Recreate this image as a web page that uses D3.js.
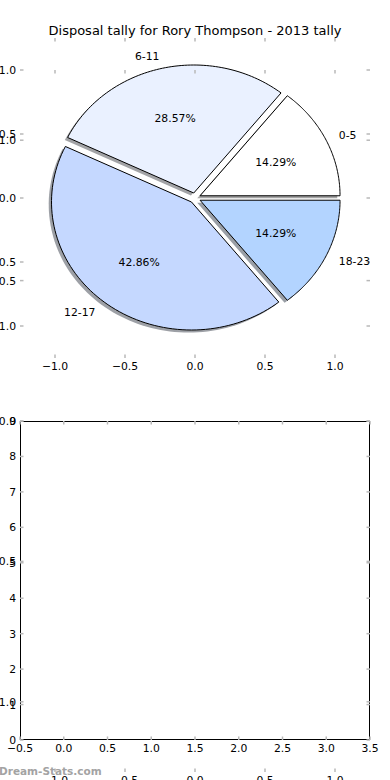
<!DOCTYPE html>
<html>
<head>
<meta charset="utf-8">
<script src="https://cdn.jsdelivr.net/npm/d3@7"></script>
<style>
  body { margin: 0; background: #fff; }
  svg { display: block; font-family: 'DejaVu Sans', sans-serif; }
  .tick-mark { stroke: #b8b8b8; stroke-width: 1.5; }
  .tick-label { font-size: 10.8px; fill: #000; }
</style>
</head>
<body>
<svg id="chart" width="390" height="780"></svg>
<script>
var slices = ['0-5', '6-11', '12-17', '18-23'];
var disposals = [1, 2, 3, 1];
var sliceColors = ['#ffffff', '#eaf1ff', '#c5d8ff', '#b3d4ff'];
var pieTicks = [-1, -0.5, 0, 0.5, 1];
var barXTicks = [-0.5, 0, 0.5, 1, 1.5, 2, 2.5, 3, 3.5];
var barYTicks = [0, 1, 2, 3, 4, 5, 6, 7, 8, 9];
var chartTitle = 'Disposal tally for Rory Thompson - 2013 tally';
var watermark = 'Dream-Stats.com';

var explode = 0.04;
var labelDistance = 1.1;
var pctDistance = 0.6;

var svg = d3.select('#chart');

var fmtFloat = function (v) {
  return (v < 0 ? '\u2212' : '') + d3.format('.1f')(Math.abs(v));
};
var fmtInt = function (v) { return String(v); };

/**
 * Grey inward ticks on all four sides, labels on left and bottom
 */
function drawAxes(g, x, y, xTicks, yTicks, xFmt, yFmt) {
  var x0 = x.range()[0], x1 = x.range()[1];
  var yb = y.range()[0], yt = y.range()[1];
  var len = 3.5;

  xTicks.forEach(function (v) {
    var px = x(v);
    g.append('line').attr('class', 'tick-mark')
      .attr('x1', px).attr('x2', px).attr('y1', yb).attr('y2', yb - len);
    g.append('line').attr('class', 'tick-mark')
      .attr('x1', px).attr('x2', px).attr('y1', yt).attr('y2', yt + len);
    g.append('text').attr('class', 'tick-label')
      .attr('x', px).attr('y', yb + 11.5)
      .attr('text-anchor', 'middle')
      .text(xFmt(v));
  });

  yTicks.forEach(function (v) {
    var py = y(v);
    g.append('line').attr('class', 'tick-mark')
      .attr('x1', x0).attr('x2', x0 + len).attr('y1', py).attr('y2', py);
    g.append('line').attr('class', 'tick-mark')
      .attr('x1', x1).attr('x2', x1 - len).attr('y1', py).attr('y2', py);
    g.append('text').attr('class', 'tick-label')
      .attr('x', x0 - 4).attr('y', py + 4)
      .attr('text-anchor', 'end')
      .text(yFmt(v));
  });
}

////////////
// PIE AXES
var pieX = d3.scaleLinear().domain([-1.25, 1.25]).range([20, 370]);
var pieY = d3.scaleLinear().domain([-1.25, 1.25]).range([358, 38]);

var pieG = svg.append('g').attr('id', 'pie-axes');
drawAxes(pieG, pieX, pieY, pieTicks, pieTicks, fmtFloat, fmtFloat);

svg.append('text')
  .attr('x', 195).attr('y', 34.5)
  .attr('text-anchor', 'middle')
  .style('font-size', '13px')
  .text(chartTitle);

// matplotlib style: start at 3 o'clock, counterclockwise
var pie = d3.pie().sort(null)
  .startAngle(Math.PI / 2)
  .endAngle(-1.5 * Math.PI);

var total = d3.sum(disposals);

var wedges = pie(disposals).map(function (d, i) {
  var t1 = Math.PI / 2 - d.startAngle;
  var t2 = Math.PI / 2 - d.endAngle;
  var tm = (t1 + t2) / 2;
  var c = [explode * Math.cos(tm), explode * Math.sin(tm)];
  var pts = [c];
  var n = 80;
  for (var k = 0; k <= n; k++) {
    var t = t1 + (t2 - t1) * k / n;
    pts.push([c[0] + Math.cos(t), c[1] + Math.sin(t)]);
  }
  return {
    label: slices[i],
    color: sliceColors[i],
    pct: d3.format('.2f')(d.value / total * 100) + '%',
    mid: tm,
    center: c,
    points: pts
  };
});

var wedgeLine = d3.line()
  .x(function (p) { return pieX(p[0]); })
  .y(function (p) { return pieY(p[1]); });

// shadows sit beneath every wedge
pieG.selectAll('path.shadow')
  .data(wedges)
  .enter()
  .append('path')
  .attr('class', 'shadow')
  .attr('d', function (w) {
    return wedgeLine(w.points.map(function (p) { return [p[0] - 0.02, p[1] - 0.02]; })) + 'Z';
  })
  .attr('fill', function (w) {
    var c = d3.rgb(w.color);
    return d3.rgb(c.r * 0.3, c.g * 0.3, c.b * 0.3).toString();
  })
  .attr('fill-opacity', 0.5)
  .attr('stroke', 'none');

pieG.selectAll('path.wedge')
  .data(wedges)
  .enter()
  .append('path')
  .attr('class', 'wedge')
  .attr('d', function (w) { return wedgeLine(w.points) + 'Z'; })
  .attr('fill', function (w) { return w.color; })
  .attr('stroke', '#000')
  .attr('stroke-width', 1)
  .attr('stroke-linejoin', 'miter');

pieG.selectAll('text.slice-label')
  .data(wedges)
  .enter()
  .append('text')
  .attr('class', 'slice-label tick-label')
  .attr('x', function (w) { return pieX(w.center[0] + labelDistance * Math.cos(w.mid)); })
  .attr('y', function (w) { return pieY(w.center[1] + labelDistance * Math.sin(w.mid)); })
  .attr('dy', '0.36em')
  .attr('text-anchor', function (w) { return Math.cos(w.mid) > 0 ? 'start' : 'end'; })
  .text(function (w) { return w.label; });

pieG.selectAll('text.pct-label')
  .data(wedges)
  .enter()
  .append('text')
  .attr('class', 'pct-label tick-label')
  .attr('x', function (w) { return pieX(w.center[0] + pctDistance * Math.cos(w.mid)); })
  .attr('y', function (w) { return pieY(w.center[1] + pctDistance * Math.sin(w.mid)); })
  .attr('dy', '0.36em')
  .attr('text-anchor', 'middle')
  .text(function (w) { return w.pct; });

//////////////
// EMPTY AXES
var barX = d3.scaleLinear().domain([-0.5, 3.5]).range([20, 370]);
var barY = d3.scaleLinear().domain([0, 9]).range([740, 421]);

var barG = svg.append('g').attr('id', 'empty-axes');
barG.append('rect')
  .attr('x', 20.5).attr('y', 421.5)
  .attr('width', 349).attr('height', 318)
  .attr('fill', 'none')
  .attr('stroke', '#000')
  .attr('stroke-width', 1);
drawAxes(barG, barX, barY, barXTicks, barYTicks, fmtFloat, fmtInt);

////////////////////////
// FULL-FIGURE OVERLAY
var overX = d3.scaleLinear().domain([-1.25, 1.25]).range([20, 370]);
var overY = d3.scaleLinear().domain([-1.25, 1.25]).range([772, 70]);

var overG = svg.append('g').attr('id', 'overlay-axes');
drawAxes(overG, overX, overY, pieTicks, pieTicks, fmtFloat, fmtFloat);

svg.append('text')
  .attr('x', -1).attr('y', 775)
  .style('font-size', '10.5px')
  .style('font-weight', 'bold')
  .attr('fill', '#a3a3a3')
  .text(watermark);
</script>
</body>
</html>
